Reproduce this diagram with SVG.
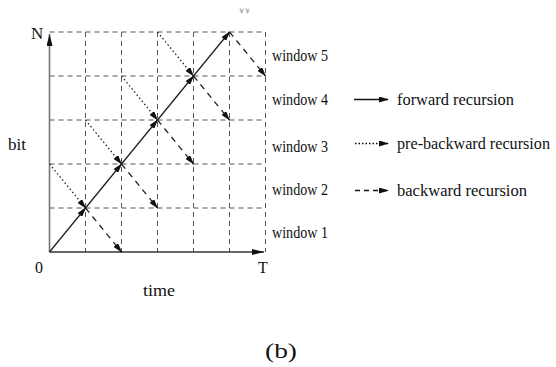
<svg xmlns="http://www.w3.org/2000/svg" width="556" height="367" viewBox="0 0 556 367">
<style>
text{font-family:"Liberation Serif","Times New Roman",serif;fill:#111}
.grid{stroke:#555;stroke-width:1;stroke-dasharray:5,4;fill:none}
.fwd{stroke:#222;stroke-width:1.3;fill:none;marker-end:url(#ah)}
.pre{stroke:#222;stroke-width:1.3;stroke-dasharray:1.5,2.5;fill:none;marker-end:url(#ah)}
.bwd{stroke:#222;stroke-width:1.3;stroke-dasharray:6,5;fill:none;marker-end:url(#ah)}
.axis{stroke:#777;stroke-width:1.6;fill:none}
.lbl{font-size:16px}
</style>
<defs>
<marker id="ah" viewBox="0 0 10 6" refX="9" refY="3" markerWidth="10" markerHeight="6" markerUnits="userSpaceOnUse" orient="auto">
<path d="M0,0 L10,3 L0,6 Z" fill="#111"/>
</marker>
<marker id="axah" viewBox="0 0 12 6" refX="12" refY="3" markerWidth="12" markerHeight="6" markerUnits="userSpaceOnUse" orient="auto">
<path d="M0,0 L12,3 L0,6 Z" fill="#111"/>
</marker>
<clipPath id="topclip"><rect x="230" y="8.5" width="30" height="5"/></clipPath>
</defs>
<g id="grid">
<path class="grid" d="M49.5,32H265.5M49.5,76H265.5M49.5,120H265.5M49.5,164H265.5M49.5,208H265.5M85.5,32V252M121.5,32V252M157.5,32V252M193.5,32V252M229.5,32V252M265.5,32V252"/>
</g>
<g id="axes">
<line class="axis" x1="49.5" y1="252" x2="49.5" y2="34" marker-end="url(#axah)"/>
<line x1="49.5" y1="252" x2="264" y2="252" stroke="#333" stroke-width="1.5" marker-end="url(#axah)"/>
</g>
<g id="connectors">
<line class="fwd" x1="49.5" y1="252" x2="85.5" y2="208"/>
<line class="fwd" x1="85.5" y1="208" x2="121.5" y2="164"/>
<line class="fwd" x1="121.5" y1="164" x2="157.5" y2="120"/>
<line class="fwd" x1="157.5" y1="120" x2="193.5" y2="76"/>
<line class="fwd" x1="193.5" y1="76" x2="229.5" y2="32"/>
<line class="pre" x1="49.5" y1="164" x2="85.5" y2="208"/>
<line class="pre" x1="85.5" y1="120" x2="121.5" y2="164"/>
<line class="pre" x1="121.5" y1="76" x2="157.5" y2="120"/>
<line class="pre" x1="157.5" y1="32" x2="193.5" y2="76"/>
<line class="bwd" x1="85.5" y1="208" x2="121.5" y2="252"/>
<line class="bwd" x1="121.5" y1="164" x2="157.5" y2="208"/>
<line class="bwd" x1="157.5" y1="120" x2="193.5" y2="164"/>
<line class="bwd" x1="193.5" y1="76" x2="229.5" y2="120"/>
<line class="bwd" x1="229.5" y1="32" x2="265.5" y2="76"/>
</g>
<g id="axis-labels">
<text x="31" y="39" font-size="17">N</text>
<text x="8" y="150" font-size="16" textLength="18" lengthAdjust="spacingAndGlyphs">bit</text>
<text x="35" y="273" font-size="16">0</text>
<text x="258" y="273" font-size="16">T</text>
<text x="143" y="296" font-size="16" textLength="32" lengthAdjust="spacingAndGlyphs">time</text>
<text x="237" y="14" font-size="16" clip-path="url(#topclip)" style="fill:#aaa">W</text>
</g>
<g id="windows">
<text class="lbl" x="272" y="61" textLength="56" lengthAdjust="spacingAndGlyphs">window 5</text>
<text class="lbl" x="272" y="105" textLength="56" lengthAdjust="spacingAndGlyphs">window 4</text>
<text class="lbl" x="272" y="152" textLength="56" lengthAdjust="spacingAndGlyphs">window 3</text>
<text class="lbl" x="272" y="195" textLength="56" lengthAdjust="spacingAndGlyphs">window 2</text>
<text class="lbl" x="272" y="238" textLength="56" lengthAdjust="spacingAndGlyphs">window 1</text>
</g>
<g id="legend-forward">
<line x1="354" y1="99.5" x2="388" y2="99.5" stroke="#111" stroke-width="1.4" marker-end="url(#ah)"/>
<text class="lbl" x="397" y="105" textLength="117" lengthAdjust="spacingAndGlyphs">forward recursion</text>
</g>
<g id="legend-pre">
<line x1="355" y1="143.5" x2="388" y2="143.5" stroke="#111" stroke-width="1.3" stroke-dasharray="1.5,2" marker-end="url(#ah)"/>
<text class="lbl" x="397" y="149" textLength="153" lengthAdjust="spacingAndGlyphs">pre-backward recursion</text>
</g>
<g id="legend-backward">
<line x1="355" y1="190.5" x2="388" y2="190.5" stroke="#111" stroke-width="1.3" stroke-dasharray="5,4" marker-end="url(#ah)"/>
<text class="lbl" x="397" y="196" textLength="130" lengthAdjust="spacingAndGlyphs">backward recursion</text>
</g>
<text x="265" y="358" font-size="20" textLength="32" lengthAdjust="spacingAndGlyphs">(b)</text>
</svg>
